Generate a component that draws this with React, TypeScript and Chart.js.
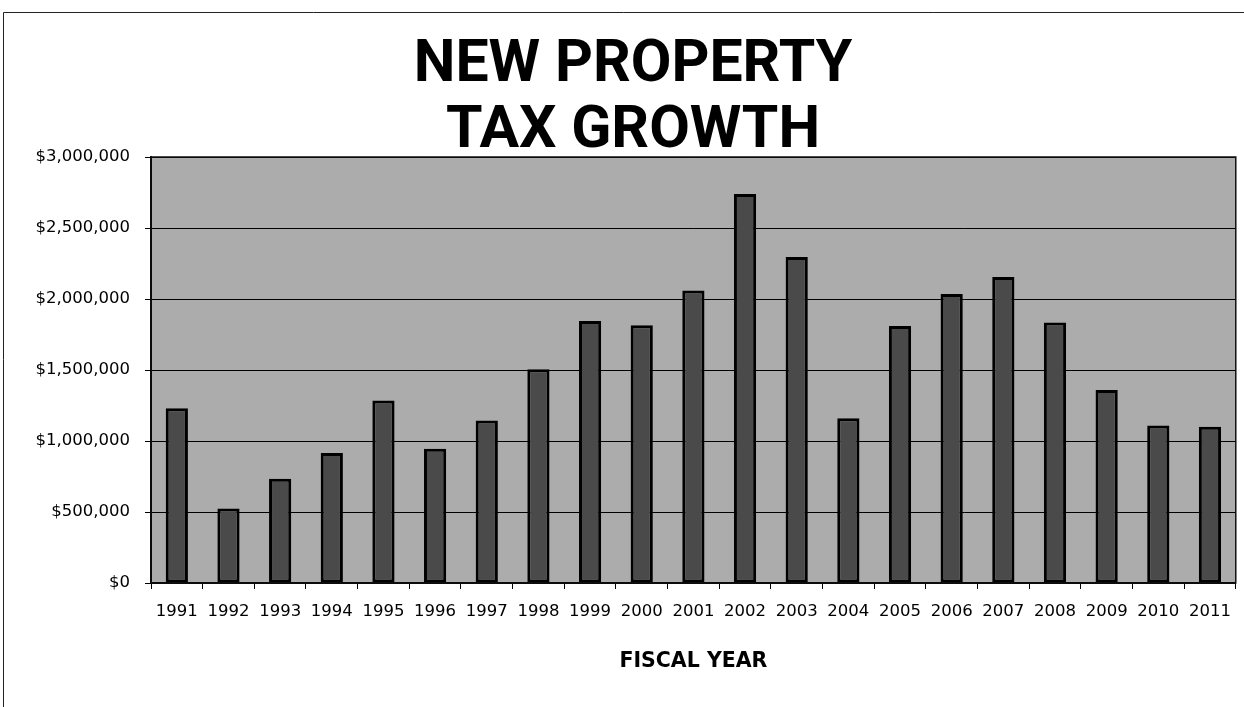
import React, { useEffect, useRef } from "react";
import { Chart, registerables } from "chart.js";

Chart.register(...registerables);

const titleLines = ["NEW PROPERTY", "TAX GROWTH"];
const xAxisTitle = "FISCAL YEAR";
const years = [
  "1991", "1992", "1993", "1994", "1995", "1996", "1997", "1998", "1999", "2000", "2001",
  "2002", "2003", "2004", "2005", "2006", "2007", "2008", "2009", "2010", "2011",
];
const growth = [
  1230000, 525000, 735000, 915000, 1285000, 945000, 1145000, 1505000, 1845000, 1815000, 2060000,
  2740000, 2295000, 1160000, 1810000, 2035000, 2155000, 1835000, 1360000, 1110000, 1100000,
];
const yMin = 0;
const yMax = 3000000;
const yStep = 500000;

const W = 1244;
const H = 707;

const framePlugin = {
  id: "framePlugin",
  beforeDraw(chart: any) {
    const { ctx, chartArea } = chart;
    ctx.save();
    ctx.fillStyle = "#ffffff";
    ctx.fillRect(0, 0, chart.width, chart.height);
    ctx.strokeStyle = "#222222";
    ctx.lineWidth = 1;
    ctx.beginPath();
    ctx.moveTo(3.5, chart.height);
    ctx.lineTo(3.5, 12.5);
    ctx.lineTo(chart.width, 12.5);
    ctx.stroke();
    ctx.fillStyle = "#acacac";
    ctx.fillRect(chartArea.left, chartArea.top, chartArea.right - chartArea.left, chartArea.bottom - chartArea.top);
    ctx.restore();
  },
  afterDraw(chart: any) {
    const { ctx, chartArea } = chart;
    ctx.save();
    ctx.strokeStyle = "#111111";
    ctx.lineWidth = 1.5;
    ctx.strokeRect(chartArea.left, chartArea.top, chartArea.right - chartArea.left, chartArea.bottom - chartArea.top);
    ctx.restore();
  },
};

export default function App() {
  const ref = useRef<HTMLCanvasElement | null>(null);
  useEffect(() => {
    if (!ref.current) return;
    const chart = new Chart(ref.current, {
      type: "bar",
      data: {
        labels: years,
        datasets: [
          {
            data: growth,
            backgroundColor: "#4a4a4a",
            borderColor: "#000000",
            borderWidth: 3,
            borderSkipped: false,
            categoryPercentage: 1,
            barPercentage: 0.43,
          },
        ],
      },
      options: {
        animation: false,
        responsive: false,
        devicePixelRatio: 1,
        layout: { padding: { left: 24, right: 2, top: 0, bottom: 0 } },
        plugins: {
          legend: { display: false },
          tooltip: { enabled: false },
          title: {
            display: true,
            text: titleLines,
            color: "#000000",
            font: { family: "Roboto", weight: "bold", size: 59, lineHeight: 66 / 59 },
            padding: { top: 33, bottom: -8 },
          },
        },
        scales: {
          x: {
            afterFit: (s: any) => {
              s.height = 124;
            },
            grid: {
              display: true,
              drawOnChartArea: false,
              drawTicks: true,
              tickLength: 6,
              color: "#000000",
              offset: true,
            },
            border: { color: "#000000", width: 2 },
            ticks: {
              color: "#000000",
              padding: 13,
              maxRotation: 0,
              autoSkip: false,
              font: { family: "DejaVu Sans", size: 16.5 },
            },
            title: {
              display: true,
              text: xAxisTitle,
              color: "#000000",
              font: { family: "DejaVu Sans", weight: "bold", size: 20.5 },
              padding: { top: 28, bottom: 33 },
            },
          },
          y: {
            min: yMin,
            max: yMax,
            afterFit: (s: any) => {
              s.width = 127;
            },
            grid: {
              color: "#000000",
              lineWidth: 1,
              drawTicks: true,
              tickLength: 6,
            },
            border: { color: "#000000", width: 2 },
            ticks: {
              stepSize: yStep,
              color: "#000000",
              padding: 15,
              font: { family: "DejaVu Sans", size: 16.5 },
              callback: (v: any) => "$" + Number(v).toLocaleString("en-US"),
            },
          },
        },
      },
      plugins: [framePlugin],
    });
    return () => chart.destroy();
  }, []);

  return (
    <div style={{ position: "fixed", left: 0, top: 0, width: W, height: H, background: "#fff" }}>
      <canvas ref={ref} width={W} height={H} style={{ width: W, height: H, display: "block" }} />
    </div>
  );
}
